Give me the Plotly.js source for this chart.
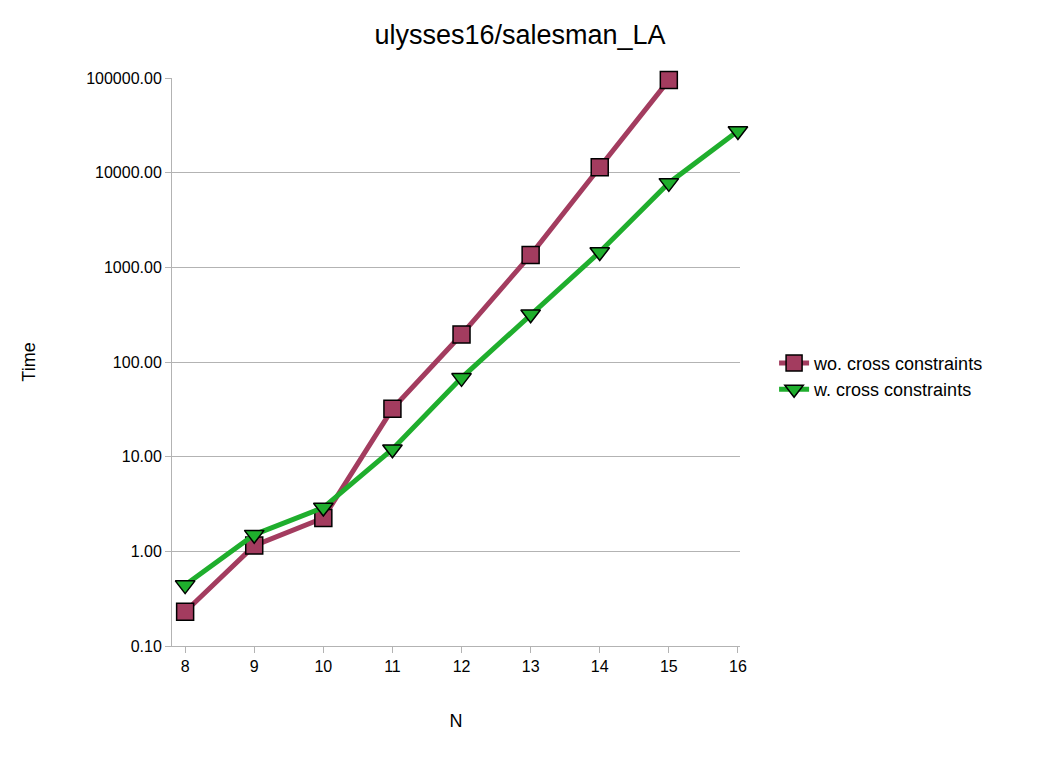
<!DOCTYPE html>
<html>
<head>
<meta charset="utf-8">
<script src="https://cdn.plot.ly/plotly-3.0.1.min.js"></script>
<style>body{margin:0;background:#fff}</style>
</head>
<body>
<div id="chart" style="width:1040px;height:760px"></div>
<script>
var nValues = [8, 9, 10, 11, 12, 13, 14, 15, 16];
var withoutCross = [0.23, 1.15, 2.25, 32, 195, 1350, 11400, 95000];
var withCross = [0.44, 1.5, 2.9, 12, 68, 320, 1450, 7800, 27500];
var yTicks = [0.1, 1, 10, 100, 1000, 10000, 100000];

var traces = [
	{
		x: nValues.slice(0, withoutCross.length),
		y: withoutCross,
		name: 'wo. cross constraints',
		mode: 'lines+markers',
		cliponaxis: false,
		line: { color: '#a33c5f', width: 5 },
		marker: { symbol: 'square', size: 17, color: '#a33c5f', line: { color: '#000', width: 1.5 } }
	},
	{
		x: nValues,
		y: withCross,
		name: 'w. cross constraints',
		mode: 'lines+markers',
		cliponaxis: false,
		line: { color: '#1fae2d', width: 5 },
		marker: { symbol: 'triangle-down', size: 17, color: '#1fae2d', line: { color: '#000', width: 1.5 } }
	}
];

var layout = {
	width: 1040, height: 760,
	margin: { l: 172, r: 300, t: 78, b: 114 },
	font: { family: 'Liberation Sans, Arial, sans-serif', size: 16, color: '#000' },
	title: { text: 'ulysses16/salesman_LA', x: 0.5, xanchor: 'center', y: 0.967, font: { size: 27 } },
	plot_bgcolor: '#fff', paper_bgcolor: '#fff',
	xaxis: {
		title: { text: 'N', font: { size: 18 }, standoff: 40 },
		range: [7.81, 16.03], tickvals: nValues, ticks: 'outside', ticklen: 6, tickcolor: '#b3b3b3',
		showgrid: false, showline: true, linecolor: '#b3b3b3', zeroline: false
	},
	yaxis: {
		title: { text: 'Time', font: { size: 18 }, standoff: 45 },
		type: 'log', range: [-1, 5], tickvals: yTicks,
		ticktext: yTicks.map(function (v) { return v.toFixed(2); }),
		ticks: 'outside', ticklen: 6, tickcolor: '#b3b3b3',
		showgrid: true, gridcolor: '#b3b3b3', showline: true, linecolor: '#b3b3b3', zeroline: false
	},
	legend: { x: 1.06, y: 0.475, yanchor: 'middle', font: { size: 18 }, tracegroupgap: 8 }
};

Plotly.newPlot('chart', traces, layout, { displayModeBar: false });
</script>
</body>
</html>
